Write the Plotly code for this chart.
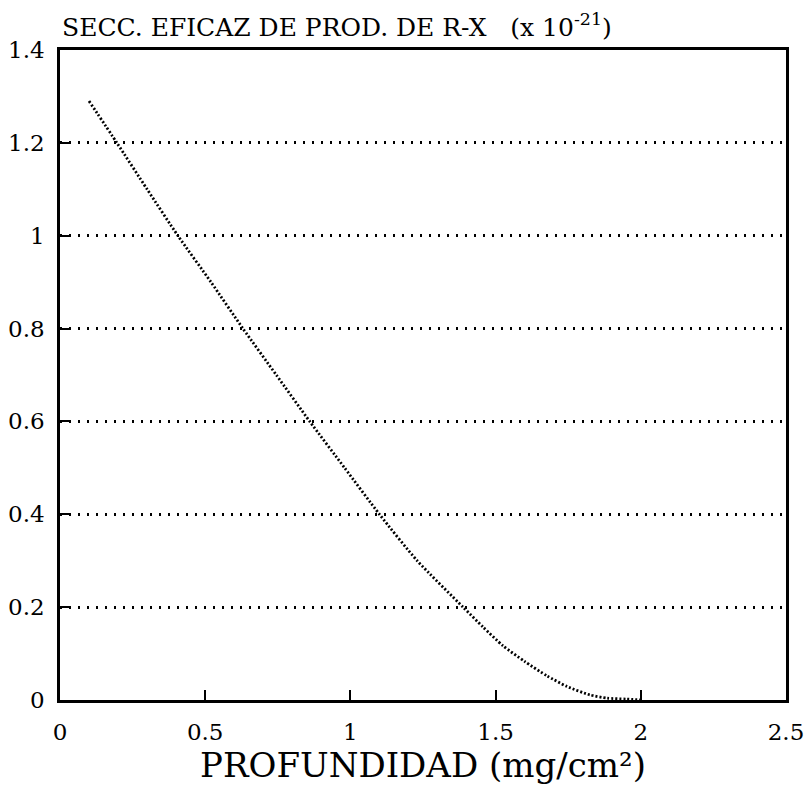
import plotly.graph_objects as go

depth = [0.10, 0.196, 0.30, 0.406, 0.52, 0.63, 0.745, 0.86, 0.98, 1.10, 1.23, 1.388,
         1.457, 1.525, 1.60, 1.677, 1.746, 1.825, 1.884, 1.95, 2.0]
sigma = [1.29, 1.20, 1.10, 1.00, 0.90, 0.80, 0.70, 0.60, 0.50, 0.40, 0.30, 0.20,
         0.157, 0.117, 0.083, 0.052, 0.029, 0.011, 0.004, 0.002, 0.0]

x_ticks = [0, 0.5, 1, 1.5, 2, 2.5]
x_tick_text = ["0", "0.5", "1", "1.5", "2", "2.5"]
y_ticks = [0, 0.2, 0.4, 0.6, 0.8, 1, 1.2, 1.4]
y_tick_text = ["0", "0.2", "0.4", "0.6", "0.8", "1", "1.2", "1.4"]

FONT = "DejaVu Serif"

fig = go.Figure()
fig.add_trace(go.Scatter(
    x=depth, y=sigma, mode="lines",
    line=dict(color="black", width=2.8, dash="2px,2px", shape="spline", smoothing=0.6),
    showlegend=False,
))

fig.update_layout(
    width=807, height=789,
    margin=dict(l=60, r=21, t=50, b=89),
    paper_bgcolor="white", plot_bgcolor="white",
    font=dict(family=FONT, color="black"),
    xaxis=dict(
        range=[0, 2.5], tickvals=x_ticks, ticktext=x_tick_text,
        ticks="inside", ticklen=10, tickwidth=1.5, tickcolor="black",
        showline=True, linecolor="black", linewidth=2.5, mirror=True,
        showgrid=False, zeroline=False, automargin=False,
        tickfont=dict(size=23, family=FONT),
        ticklabelstandoff=10,
        title=dict(text="PROFUNDIDAD (mg/cm²)", font=dict(size=34, family=FONT), standoff=4),
    ),
    yaxis=dict(
        range=[0, 1.4], tickvals=y_ticks, ticktext=y_tick_text,
        ticks="inside", ticklen=10, tickwidth=1.5, tickcolor="black",
        showline=True, linecolor="black", linewidth=2.5, mirror=True,
        showgrid=True, gridcolor="black", gridwidth=2.5, griddash="2px,7px",
        zeroline=False, automargin=False,
        tickfont=dict(size=23, family=FONT),
        ticklabelstandoff=8,
    ),
    annotations=[dict(
        text="SECC. EFICAZ DE PROD. DE R-X&nbsp;&nbsp;&nbsp;(x 10<sup>-21</sup>)",
        xref="paper", yref="paper", x=0, y=1, xanchor="left", yanchor="bottom",
        yshift=6, showarrow=False, font=dict(size=25, family=FONT, color="black"),
    )],
)

fig.write_html("out.html")
